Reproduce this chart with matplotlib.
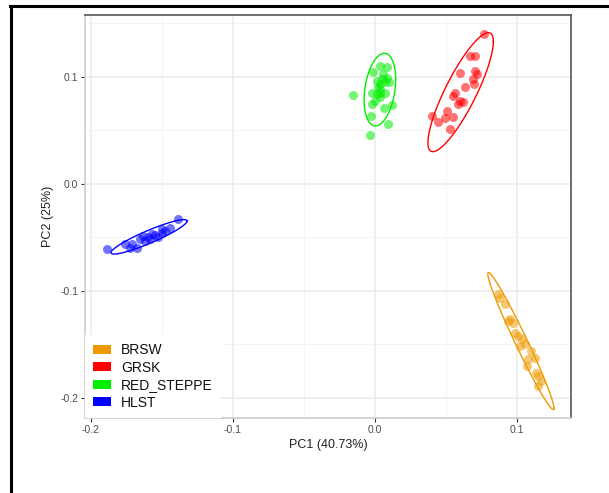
import numpy as np
import matplotlib
matplotlib.use("Agg")
import matplotlib.pyplot as plt
from matplotlib.patches import Patch
from matplotlib.lines import Line2D

plt.rcParams['font.family'] = ['Liberation Sans', 'DejaVu Sans']

# PCA scores per breed
groups = ["BRSW", "GRSK", "RED_STEPPE", "HLST"]
colors = {"BRSW": "#EE9A00", "GRSK": "#FF0000", "RED_STEPPE": "#00EE00", "HLST": "#0000FF"}

brsw_pc1 = [0.0868, 0.0915, 0.0951, 0.0974, 0.0986, 0.1009, 0.1033, 0.1056, 0.1080, 0.1127,
            0.1073, 0.1150, 0.1150, 0.0880, 0.0937, 0.1021, 0.1099, 0.1134, 0.1169]
brsw_pc2 = [-0.1031, -0.1124, -0.1264, -0.1296, -0.1390, -0.1421, -0.1451, -0.1498, -0.1638, -0.1623,
            -0.1701, -0.1794, -0.1888, -0.1065, -0.1280, -0.1514, -0.1561, -0.1766, -0.1841]

grsk_pc1 = [0.0768, 0.0669, 0.0704, 0.0704, 0.0599, 0.0716, 0.0692, 0.0699, 0.0634, 0.0563,
            0.0551, 0.0599, 0.0622, 0.0587, 0.0505, 0.0399, 0.0493, 0.0551, 0.0446, 0.0528]
grsk_pc2 = [0.1402, 0.1196, 0.1196, 0.1056, 0.1035, 0.1025, 0.0979, 0.0937, 0.0907, 0.0853,
            0.0822, 0.0776, 0.0760, 0.0745, 0.0676, 0.0636, 0.0614, 0.0620, 0.0573, 0.0511]

steppe_pc1 = [0.0035, 0.0087, -0.0012, 0.0058, 0.0082, 0.0012, 0.0070, 0.0035, 0.0101, -0.0023,
              0.0035, 0.0070, 0.0012, 0.0035, -0.0153, -0.0023, 0.0118, 0.0063, -0.0028, 0.0094,
              -0.0035, 0.0021, 0.0049, 0.0000, 0.0035]
steppe_pc2 = [0.1103, 0.1093, 0.1040, 0.1025, 0.0993, 0.0963, 0.0947, 0.0932, 0.0947, 0.0853,
              0.0885, 0.0853, 0.0838, 0.0807, 0.0832, 0.0745, 0.0738, 0.0713, 0.0636, 0.0558,
              0.0455, 0.0907, 0.0981, 0.0776, 0.0850]

hlst_pc1 = [-0.1385, -0.1885, -0.1444, -0.1502, -0.1573, -0.1632, -0.1596, -0.1655, -0.1713, -0.1725,
            -0.1678, -0.1620, -0.1549, -0.1528, -0.1479, -0.1761, -0.1585, -0.1500]
hlst_pc2 = [-0.0324, -0.0605, -0.0408, -0.0455, -0.0470, -0.0486, -0.0495, -0.0517, -0.0564, -0.0595,
            -0.0595, -0.0533, -0.0477, -0.0495, -0.0439, -0.0561, -0.0514, -0.0421]

data = {
    "BRSW": (brsw_pc1, brsw_pc2),
    "GRSK": (grsk_pc1, grsk_pc2),
    "RED_STEPPE": (steppe_pc1, steppe_pc2),
    "HLST": (hlst_pc1, hlst_pc2),
}

x_ticks = [-0.2, -0.1, 0.0, 0.1]
y_ticks = [-0.2, -0.1, 0.0, 0.1]
x_label = "PC1 (40.73%)"
y_label = "PC2 (25%)"


def cov_trob(X, nu=5, maxit=25, tol=0.01):
    """Multivariate-t robust covariance estimate (as MASS::cov.trob)."""
    n, p = X.shape
    w = np.ones(n)
    m = X.mean(axis=0)
    for _ in range(maxit):
        w0 = w
        m = (w[:, None] * X).sum(axis=0) / w.sum()
        D = X - m
        V = (w[:, None] * D).T @ D / n
        Vi = np.linalg.inv(V)
        d2 = np.einsum('ij,jk,ik->i', D, Vi, D)
        w = (nu + p) / (nu + d2)
        if np.all(np.abs(w - w0) < tol):
            break
    return m, V


def conf_ellipse(x, y, level=0.95, segments=101):
    X = np.column_stack([x, y])
    n = len(x)
    center, V = cov_trob(X)
    dfn, dfd = 2, n - 1
    # closed form F quantile for dfn = 2
    fq = (dfd / 2.0) * ((1 - level) ** (-2.0 / dfd) - 1)
    radius = np.sqrt(dfn * fq)
    t = np.linspace(0, 2 * np.pi, segments)
    circle = np.column_stack([np.cos(t), np.sin(t)])
    L = np.linalg.cholesky(V).T
    pts = center + radius * circle @ L
    return pts[:, 0], pts[:, 1]


fig = plt.figure(figsize=(6.09, 4.93), dpi=100)
ax = fig.add_axes([85 / 609, 1 - 418 / 493, (571 - 85) / 609, (418 - 15) / 493])

for g in groups:
    px, py = data[g]
    ax.scatter(px, py, s=42, color=colors[g], alpha=0.55, linewidths=0, zorder=3)
    ex, ey = conf_ellipse(np.array(px), np.array(py))
    ax.plot(ex, ey, color=colors[g], lw=1.0, zorder=4)

ax.set_xlim(-0.2042, 0.138)
ax.set_ylim(-0.2187, 0.1577)
ax.set_xticks(x_ticks)
ax.set_yticks(y_ticks)
ax.set_xticklabels([f"{v:.1f}" for v in x_ticks])
ax.set_yticklabels([f"{v:.1f}" for v in y_ticks])
ax.set_xticks([-0.15, -0.05, 0.05], minor=True)
ax.set_yticks([-0.15, -0.05, 0.05, 0.15], minor=True)
ax.grid(True, which='major', color='#EBEBEB', lw=1.1, zorder=0)
ax.grid(True, which='minor', color='#F3F3F3', lw=0.6, zorder=0)
ax.set_axisbelow(True)
ax.tick_params(which='major', length=3, width=0.8, color='#333333',
               labelsize=7.5, labelcolor='#4D4D4D', pad=2)
ax.tick_params(which='minor', length=0)

ax.spines['top'].set_color('#555555')
ax.spines['right'].set_color('#555555')
ax.spines['left'].set_color('#CCCCCC')
ax.spines['bottom'].set_color('#CCCCCC')
for s in ax.spines.values():
    s.set_linewidth(1.2)

ax.set_xlabel(x_label, fontsize=9, color='#222222', labelpad=3)
ax.set_ylabel(y_label, fontsize=9, color='#222222', labelpad=4)

handles = [Patch(facecolor=colors[g], edgecolor='none', label=g) for g in groups]
leg = ax.legend(handles=handles, loc='lower left', bbox_to_anchor=(0.0, 0.0),
                borderaxespad=0.0, frameon=True, fancybox=False, fontsize=10,
                handlelength=1.25, handleheight=0.6, handletextpad=0.75,
                labelspacing=0.25, borderpad=0.6)
leg.get_frame().set_facecolor('white')
leg.get_frame().set_edgecolor('none')
leg.get_frame().set_alpha(1.0)
for t in leg.get_texts():
    t.set_color('#111111')

# outer black frame
fig.add_artist(Line2D([10 / 609, 1.0], [1 - 6 / 493, 1 - 6 / 493], transform=fig.transFigure,
                      color='black', lw=2.2))
fig.add_artist(Line2D([11 / 609, 11 / 609], [0.0, 1 - 6 / 493], transform=fig.transFigure,
                      color='black', lw=2.2))

fig.savefig("out.png", dpi=100)
